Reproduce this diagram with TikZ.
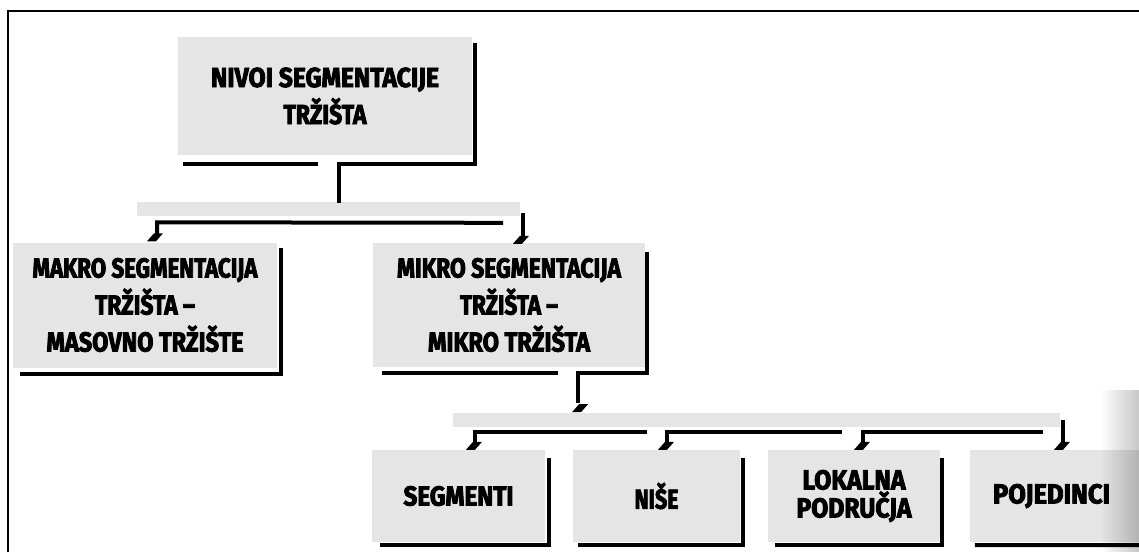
\documentclass[tikz,border=0pt]{standalone}
\usepackage{fontspec}
\setmainfont{Fira Sans}[FakeStretch=0.89, BoldFeatures={FakeBold=3}]
\usetikzlibrary{calc,fadings}
\newcommand\fitw[2]{\resizebox{#1}{\height}{#2}}
\begin{document}
\begin{tikzpicture}[x=1pt,y=-1pt,
  box/.style={fill=black!10, inner sep=0pt, align=center, text=black,
    font=\bfseries\fontsize{27.5}{37}\selectfont},
  tightbox/.style={box, font=\bfseries\fontsize{27.5}{28}\selectfont},
  shadowline/.style={line width=4pt, line cap=butt, line join=miter},
  link/.style={line width=4pt, line cap=butt, line join=miter},
  band/.style={fill=black!10},
  frameline/.style={line width=2.2pt},
  drophead/.pic={\fill (-8,4) -- (1,4) -- (8,-4) -- (-1,-4) -- cycle;}
]
\useasboundingbox (0,0) rectangle (1139,552);
\fill[white] (0,0) rectangle (1139,552);

% grey bands behind the connectors
\fill[band] (137,202) rectangle (520,216);
\fill[band] (453,413) rectangle (1060,427);

% boxes
\node[box, minimum width=294pt, minimum height=118pt] (top) at (325,96)
  {\fitw{228pt}{NIVOI SEGMENTACIJE}\\\fitw{83pt}{TRŽIŠTA}};
\node[box, minimum width=264pt, minimum height=125pt] (makro) at (145,305)
  {\fitw{225pt}{MAKRO SEGMENTACIJA}\\\fitw{100pt}{TRŽIŠTA –}\\\fitw{197pt}{MASOVNO TRŽIŠTE}};
\node[box, minimum width=272pt, minimum height=124pt] (mikro) at (509,305)
  {\fitw{224pt}{MIKRO SEGMENTACIJA}\\\fitw{98pt}{TRŽIŠTA –}\\\fitw{162pt}{MIKRO TRŽIŠTA}};
\node[box, minimum width=173pt, minimum height=92pt] (seg) at (458.5,496) {\fitw{110pt}{SEGMENTI}};
\node[box, minimum width=167pt, minimum height=92pt] (nise) at (656.5,496) {\fitw{44pt}{NIŠE}};
\node[tightbox, minimum width=172pt, minimum height=92pt] (lok) at (854,496)
  {\fitw{103pt}{LOKALNA}\\\fitw{115pt}{PODRUČJA}};
\node[box, minimum width=170pt, minimum height=92pt] (poj) at (1055,496) {\fitw{117pt}{POJEDINCI}\hspace*{7pt}};

% shadow borders
\draw[shadowline] ($(top.north east)+(3,6)$) -- ($(top.south east)+(3,9)$) -- ($(top.south)+(14,9)$) -- ++(0,39) coordinate (topdrop);
\draw[shadowline] ($(top.south west)+(5,9)$) -- ($(top.south)+(-7,9)$);
\draw[shadowline] ($(makro.north east)+(4,6)$) |- ($(makro.south west)+(7,6)$);
\draw[shadowline] ($(mikro.north east)+(2,9)$) -- ($(mikro.south east)+(2,6)$) -- ($(mikro.south)+(69,6)$) -- ++(0,30) coordinate (mikrodrop);
\draw[shadowline] ($(mikro.south west)+(9,6)$) -- ($(mikro.south)+(49,6)$);
\draw[shadowline] ($(seg.north east)+(4,8)$) |- ($(seg.south west)+(8,3)$);
\draw[shadowline] ($(nise.north east)+(3,8)$) |- ($(nise.south west)+(5,3)$);
\draw[shadowline] ($(lok.north east)+(2,8)$) |- ($(lok.south west)+(7,3)$);
\draw[shadowline] ($(poj.south west)+(5,3)$) -- (1139,545);

% first level connectors
\draw[link] ($(makro.north)+(12,-8)$) -- ($(makro.north)+(12,-20)$) -- ($(mikro.north)+(-6,-20)$);
\pic at ($(makro.north)+(10,-5)$) {drophead};
\draw[link] ($(mikro.north)+(14,-30)$) -- ($(mikro.north)+(14,-7)$);
\pic at ($(mikro.north)+(12,-3)$) {drophead};

% second level connectors
\pic at ($(mikrodrop)+(2,5)$) {drophead};
\draw[link] ($(seg.north)+(16.5,-6)$) -- ($(seg.north)+(16.5,-18)$) -- ($(nise.north)+(-9.5,-18)$);
\pic at ($(seg.north)+(15.5,-4)$) {drophead};
\draw[link] ($(nise.north)+(10.5,-6)$) -- ($(nise.north)+(10.5,-18)$) -- ($(lok.north)+(-12,-18)$);
\pic at ($(nise.north)+(9.5,-4)$) {drophead};
\draw[link] ($(lok.north)+(9,-6)$) -- ($(lok.north)+(9,-18)$) -- ($(poj.north)+(-12,-18)$);
\pic at ($(lok.north)+(8,-4)$) {drophead};
\draw[link] ($(poj.north)+(8,-30)$) -- ($(poj.north)+(8,-6)$);
\pic at ($(poj.north)+(7,-4)$) {drophead};

% page frame
\draw[frameline] (8,552) -- (8,11) -- (1139,11);

% scanner shadow at the right edge
\fill[black, path fading=west, fill opacity=0.22] (1100,390) rectangle (1139,552);
\end{tikzpicture}
\end{document}
